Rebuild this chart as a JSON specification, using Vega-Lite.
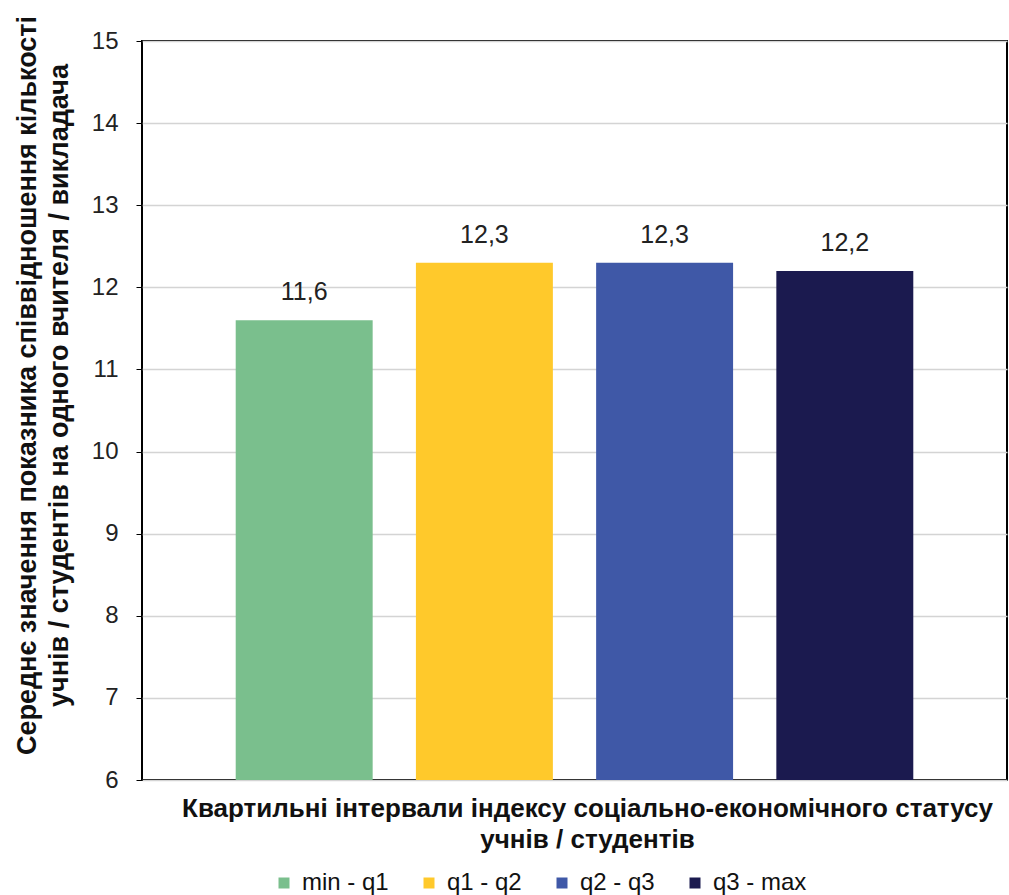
{
  "$schema": "https://vega.github.io/schema/vega-lite/v6.json",
  "autosize": {"type": "none"},
  "padding": {"left": 142, "top": 41, "right": 2, "bottom": 115},
  "width": 865,
  "height": 739,
  "background": "white",
  "config": {
    "font": "Liberation Sans",
    "view": {"stroke": "#000000", "strokeWidth": 2},
    "locale": {"number": {"decimal": ",", "thousands": " ", "grouping": [3], "currency": ["", ""]}}
  },
  "data": {
    "values": [
      {"group": "min - q1", "value": 11.6},
      {"group": "q1 - q2", "value": 12.3},
      {"group": "q2 - q3", "value": 12.3},
      {"group": "q3 - max", "value": 12.2}
    ]
  },
  "encoding": {
    "x": {
      "field": "group",
      "type": "nominal",
      "sort": null,
      "scale": {"paddingInner": 0.24, "paddingOuter": 0.52},
      "axis": {
        "labels": false,
        "ticks": false,
        "domain": false,
        "title": ["Квартильні інтервали індексу соціально-економічного статусу", "учнів / студентів"],
        "titleFont": "Liberation Sans",
        "titleFontSize": 26,
        "titleFontWeight": "bold",
        "titleColor": "#111111",
        "titleLineHeight": 31,
        "titleBaseline": "top",
        "titleX": 445,
        "titleY": 15
      }
    },
    "y": {
      "field": "value",
      "type": "quantitative",
      "scale": {"domain": [6, 15], "zero": false, "nice": false},
      "axis": {
        "values": [6, 7, 8, 9, 10, 11, 12, 13, 14, 15],
        "labelFontSize": 24,
        "labelColor": "#222222",
        "labelPadding": 18,
        "tickSize": 6,
        "tickColor": "#000000",
        "domain": false,
        "gridColor": "#d4d4d4",
        "gridWidth": 1.5,
        "title": ["Середнє значення показника співвідношення кількості", "учнів / студентів на одного вчителя / викладача"],
        "titleFontSize": 27,
        "titleFontWeight": "bold",
        "titleColor": "#111111",
        "titleLineHeight": 32,
        "titleBaseline": "top",
        "titleAngle": -90,
        "titleX": -128,
        "titleY": 344
      }
    }
  },
  "layer": [
    {
      "mark": {"type": "bar", "clip": true},
      "encoding": {
        "color": {
          "field": "group",
          "type": "nominal",
          "sort": null,
          "scale": {"range": ["#7abf8d", "#ffc92b", "#3f58a7", "#1b1a4f"]},
          "legend": {
            "title": null,
            "orient": "none",
            "direction": "horizontal",
            "legendX": 130,
            "legendY": 830,
            "symbolType": "square",
            "symbolSize": 121,
            "symbolStrokeWidth": 0,
            "labelFontSize": 24,
            "labelColor": "#111111",
            "columnPadding": 28,
            "labelOffset": 6
          }
        }
      }
    },
    {
      "mark": {"type": "text", "baseline": "alphabetic", "dy": -20, "fontSize": 25, "color": "#222222", "font": "Liberation Sans"},
      "encoding": {
        "text": {"field": "value", "type": "quantitative", "format": ".1f"}
      }
    }
  ]
}
